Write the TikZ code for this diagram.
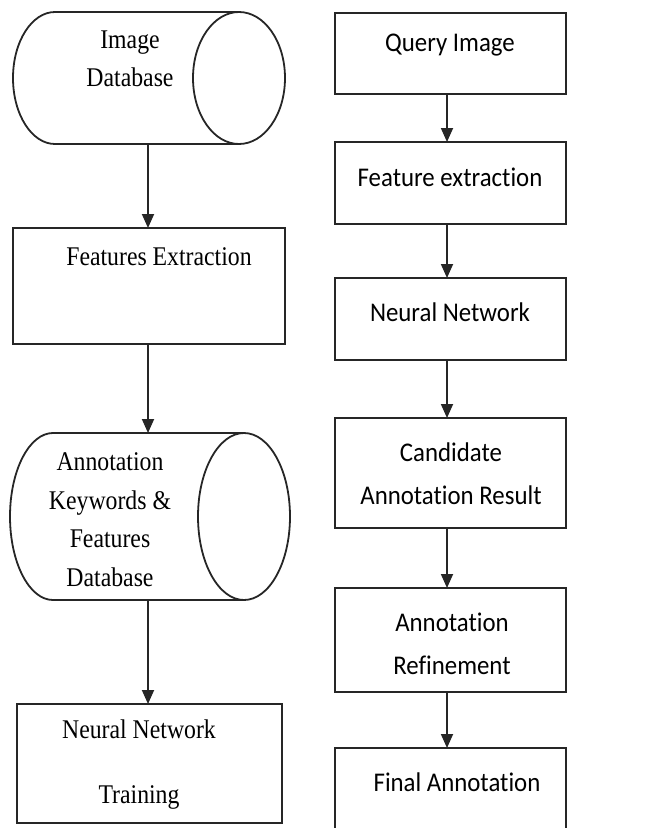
\documentclass[tikz,border=0pt]{standalone}
\usepackage{fontspec}
\usetikzlibrary{arrows.meta}
\newfontfamily\serifface[FakeStretch=0.88]{Liberation Serif}
\newfontfamily\calface[FakeStretch=0.92,Ligatures=NoCommon]{Carlito}
\begin{document}
\begin{tikzpicture}[x=1pt,y=-1pt,
  outl/.style={line width=1.8pt, draw=black!85},
  hidden/.style={inner sep=0pt, outer sep=0pt},
  rbox/.style={outl, draw, inner sep=0pt, outer sep=0pt, minimum width=231pt},
  lbox/.style={outl, draw, inner sep=0pt, outer sep=0pt, minimum width=272pt},
  sertxt/.style={inner sep=0pt, align=center, font=\serifface\fontsize{27}{38.5}\selectfont},
  caltxt/.style={inner sep=0pt, align=center, font=\calface\fontsize{27}{43.5}\selectfont},
  arr/.style={outl, -{Triangle[width=12pt,length=14pt]}}]
\useasboundingbox (0,0) rectangle (658,828);

% ---------- left column ----------
% Image Database cylinder
\node[hidden, minimum width=272pt, minimum height=132pt] (imgdb) at (148,78) {};
\draw[outl] (239,12) -- (55,12) arc[start angle=90, end angle=270, x radius=42pt, y radius=66pt] -- (239,144);
\draw[outl] (239,78) ellipse [x radius=46pt, y radius=66pt];
\node[sertxt] (imgdbtxt) at (130,59) {Image\\Database};

% Features Extraction
\node[lbox, minimum height=116pt] (featx) at (149,286) {};
\node[sertxt] (featxtxt) at (159,257) {Features Extraction};

% Annotation Keywords & Features Database cylinder
\node[hidden, minimum width=280pt, minimum height=167pt] (anndb) at (148,516.5) {};
\draw[outl] (244,433) -- (53,433) arc[start angle=90, end angle=270, x radius=43pt, y radius=83.5pt] -- (244,600);
\draw[outl] (244,516.5) ellipse [x radius=46pt, y radius=83.5pt];
\node[sertxt] (anndbtxt) at (110,519.5) {Annotation\\Keywords \&\\Features\\Database};

% Neural Network Training
\node[outl, draw, inner sep=0pt, outer sep=0pt, minimum width=265pt, minimum height=119pt] (nnt) at (149.5,763.5) {};
\node[sertxt, font=\serifface\fontsize{27}{65}\selectfont] (nnttxt) at (139,764.5) {Neural Network\\Training};

\draw[arr] (imgdb.south) -- (imgdb.south |- featx.north);
\draw[arr] (anndb.north |- featx.south) -- (anndb.north);
\draw[arr] (anndb.south) -- (anndb.south |- nnt.north);

% ---------- right column ----------
\node[rbox, minimum height=81pt] (query) at (450.5,53.5) {};
\node[caltxt] (querytxt) at (450,45) {Query Image};

\node[rbox, minimum height=82pt] (fext) at (450.5,183) {};
\node[caltxt] (fexttxt) at (450,177) {Feature extraction};

\node[rbox, minimum height=82pt] (nn) at (450.5,319) {};
\node[caltxt] (nntxt) at (450,312) {Neural Network};

\node[rbox, minimum height=110pt] (cand) at (450.5,473) {};
\node[caltxt] (candtxt) at (451,473.5) {Candidate\\Annotation Result};

\node[rbox, minimum height=104pt] (refine) at (450.5,640) {};
\node[caltxt] (refinetxt) at (452,644) {Annotation\\Refinement};

\node[hidden, minimum width=231pt, minimum height=80pt] (final) at (450.5,788) {};
\draw[outl] (335,828) -- (335,748) -- (566,748) -- (566,828);
\node[caltxt] (finaltxt) at (457,782) {Final Annotation};

\draw[arr] ([xshift=-3.5pt]query.south) -- ([xshift=-3.5pt]fext.north);
\draw[arr] ([xshift=-3.5pt]fext.south) -- ([xshift=-3.5pt]nn.north);
\draw[arr] ([xshift=-3.5pt]nn.south) -- ([xshift=-3.5pt]cand.north);
\draw[arr] ([xshift=-3.5pt]cand.south) -- ([xshift=-3.5pt]refine.north);
\draw[arr] ([xshift=-3.5pt]refine.south) -- ([xshift=-3.5pt]final.north);
\end{tikzpicture}
\end{document}
